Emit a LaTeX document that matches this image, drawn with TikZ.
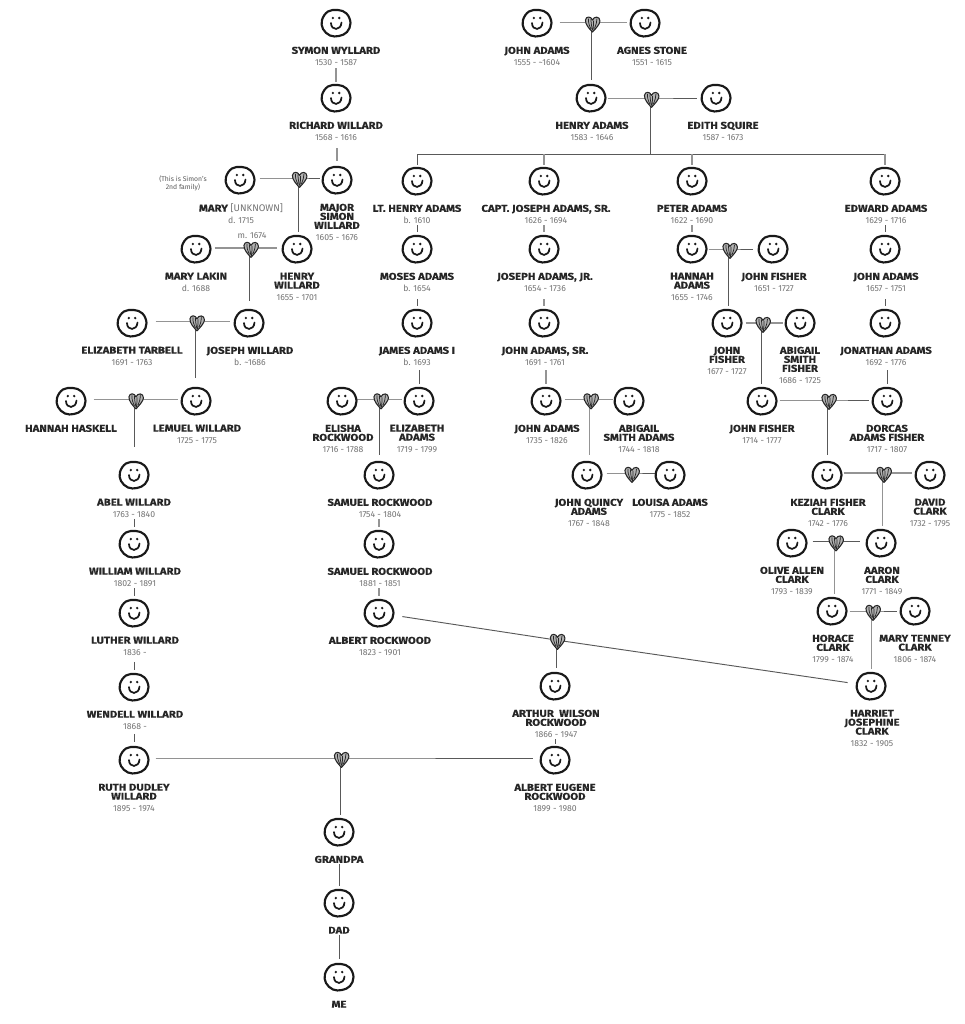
\documentclass[tikz,border=0pt]{standalone}
\usepackage{fontspec}
\setmainfont{Fira Sans}
\newfontfamily\nmfam[FakeStretch=1.15,BoldFeatures={FakeBold=0.35}]{Fira Sans}
\pgfdeclarelayer{conn}
\pgfdeclarelayer{paper}
\pgfsetlayers{paper,conn,main}
\newcommand{\nmf}{\nmfam\fontsize{7.4pt}{6.75pt}\selectfont\bfseries\color{black!85}}
\newcommand{\dtf}{\rmfamily\fontsize{6.5pt}{6.75pt}\selectfont\mdseries\color{black!55}}
\tikzset{
  x=0.75pt,y=-0.75pt,
  facebox/.style={circle,minimum size=20pt,inner sep=0pt},
  heartbox/.style={circle,minimum size=6pt,inner sep=0pt},
  lbl/.style={anchor=north,align=center,inner sep=0pt,font=\nmf},
  note/.style={align=center,inner sep=0pt,font=\dtf},
  noteb/.style={align=center,inner sep=0pt,font=\fontsize{5.1pt}{6.2pt}\selectfont\color{black!65}},
  link/.style={draw=black!65,line width=0.7pt},
  linkl/.style={draw=black!42,line width=0.8pt},
  smile/.pic={
    \draw[line width=1.6pt,line cap=round,black!90] plot[smooth cycle,tension=0.65] coordinates {(14.5,0) (10.5,-9.5) (2,-13) (-8,-11.5) (-14,-3) (-13,6) (-6,12.5) (3,13) (11,9)};
    \fill[black!90] (-3.2,-5) circle (1.3) (3.2,-5) circle (1.3);
    \draw[line width=1.3pt,line cap=round,black!90] (-5,0) .. controls (-5,8) and (5,8) .. (5.5,-0.5);
  },
  heartglyph/.pic={
    \draw[line width=0.8pt,black!85,fill=black!30,line join=round] (0,8) .. controls (-3,5) and (-7.5,0) .. (-7,-4) .. controls (-6.5,-8) and (-1.5,-8) .. (0,-4) .. controls (1.5,-8) and (7.5,-8) .. (7.5,-3) .. controls (7.5,0) and (3,5) .. (0,8) -- cycle;
    \draw[line width=0.55pt,black!85] (-4,-5.5) .. controls (-4.5,-2) and (-3,2) .. (-1.5,5) (-1.5,-5) .. controls (-1.5,-2) and (-1,2) .. (0,6) (1,-3.5) .. controls (1,0) and (1,3) .. (0.5,6.5) (4.5,-5.5) .. controls (4.5,-2) and (3.5,1) .. (2,4.5);
  }
}
% id, face x, face y, label x, name, dates
\newcommand{\person}[6]{%
  \node[facebox] (#1) at (#2,#3) {};
  \pic at (#1) {smile};
  \if\relax\detokenize{#6}\relax
    \node[lbl] (#1-l) at (#4,#3+23.5) {#5};
  \else
    \node[lbl] (#1-l) at (#4,#3+23.5) {#5\\[2.2pt]{\dtf #6}};
  \fi
}
% the stem leaves each heart a little left of its middle
\newcommand{\heart}[3]{%
  \node[heartbox] (#1) at (#2-1.5,#3) {};
  \pic at ([xshift=1.1pt,yshift=-1.0pt]#1) {heartglyph};
}
% [style] a h b gapa gapb : a horizontal line at the height of the heart
\newcommand{\couple}[6][link]{%
  \begin{pgfonlayer}{conn}
  \draw[#1] ([xshift=#5*0.75pt]#2.east |- #3.center) -- (#3.center) -- ([xshift=-#6*0.75pt]#4.west |- #3.center);
  \end{pgfonlayer}
}
% [style] h child endgap(px)
\newcommand{\drop}[4][link]{%
  \begin{pgfonlayer}{conn}
  \draw[#1,shorten >=#4*0.75pt] (#2.center) -- (#2.center |- #3.north);
  \end{pgfonlayer}
}
% [style] label face startgap endgap (px)
\newcommand{\chain}[5][link]{%
  \begin{pgfonlayer}{conn}
  \draw[#1,shorten <=#4*0.75pt,shorten >=#5*0.75pt] (#3.north |- #2.south) -- (#3.north);
  \end{pgfonlayer}
}
\begin{document}
\begin{tikzpicture}
\begin{pgfonlayer}{paper}
\fill[white] (0,0) rectangle (964,1024);
\end{pgfonlayer}
\useasboundingbox (0,0) rectangle (964,1024);

% Willard line
\person{symon}{336}{23}{336}{SYMON WYLLARD}{1530 - 1587}
\person{richard}{336}{98}{336}{RICHARD WILLARD}{1568 - 1616}
\person{major}{337}{180}{337}{MAJOR\\SIMON\\WILLARD}{1605 - 1676}
\person{mary}{240}{180}{241}{MARY {\dtf\fontsize{7.2pt}{6.75pt}\selectfont [UNKNOWN]}}{d. 1715}
\heart{hm}{299.5}{178}
\person{henryw}{297}{249}{297}{HENRY\\WILLARD}{1655 - 1701}
\person{lakin}{196}{249}{196}{MARY LAKIN}{d. 1688}
\heart{hl}{251}{248}
\person{josephw}{249}{323}{250}{JOSEPH WILLARD}{b. \textasciitilde 1686}
\person{tarbell}{132}{323}{132}{ELIZABETH TARBELL}{1691 - 1763}
\heart{ht}{197}{321.5}
\person{lemuel}{196}{401}{197}{LEMUEL WILLARD}{1725 - 1775}
\person{haskell}{71}{401}{71}{HANNAH HASKELL}{}
\heart{hh}{136}{399.5}
\person{abel}{134}{475}{134}{ABEL WILLARD}{1763 - 1840}
\person{william}{134}{544}{135}{WILLIAM WILLARD}{1802 - 1891}
\person{luther}{134}{613}{135}{LUTHER WILLARD}{1836 -}
\person{wendell}{134}{687}{135}{WENDELL WILLARD}{1868 -}
\person{ruth}{134}{760}{134}{RUTH DUDLEY\\WILLARD}{1895 - 1974}
\node[noteb] (sn) at (183,183) {(This is Simon's\\2nd family)};
\node[note] (ml) at (252,236) {m. 1674};

% Adams top
\person{johna}{537}{23}{537}{JOHN ADAMS}{1555 - \textasciitilde 1604}
\person{agnes}{645}{23}{652}{AGNES STONE}{1551 - 1615}
\heart{hj}{592.5}{22.7}
\person{henrya}{591}{98}{592}{HENRY ADAMS}{1583 - 1646}
\person{edith}{716}{98}{723}{EDITH SQUIRE}{1587 - 1673}
\heart{he}{651.5}{98}
\coordinate (busl) at (417,154);
\coordinate (busr) at (885,154);
\coordinate (busm) at (650,154);

% Row of children
\person{lth}{417}{181}{417}{LT. HENRY ADAMS}{b. 1610}
\person{capt}{544}{181}{546}{CAPT. JOSEPH ADAMS, SR.}{1626 - 1694}
\person{peter}{692}{181}{692}{PETER ADAMS}{1622 - 1690}
\person{edward}{885}{181}{886}{EDWARD ADAMS}{1629 - 1716}
\person{moses}{417}{249}{417}{MOSES ADAMS}{b. 1654}
\person{josephjr}{544}{249}{545}{JOSEPH ADAMS, JR.}{1654 - 1736}
\person{hannaha}{692}{249}{692}{HANNAH\\ADAMS}{1655 - 1746}
\person{johnf}{773}{249}{774}{JOHN FISHER}{1651 - 1727}
\heart{hf}{730}{249}
\person{johna2}{885}{249}{886}{JOHN ADAMS}{1657 - 1751}
\person{james}{417}{323}{417}{JAMES ADAMS I}{b. 1693}
\person{johnsr}{544}{323}{545}{JOHN ADAMS, SR.}{1691 - 1761}
\person{johnf2}{727}{323}{727}{JOHN\\FISHER}{1677 - 1727}
\person{abigailf}{800}{323}{800}{ABIGAIL\\SMITH\\FISHER}{1686 - 1725}
\heart{hg}{763}{323}
\person{jonathan}{885}{323}{886}{JONATHAN ADAMS}{1692 - 1776}

% Row 401
\person{elisha}{342}{401}{343}{ELISHA\\ROCKWOOD}{1716 - 1788}
\person{elizabeth}{419}{401}{417}{ELIZABETH\\ADAMS}{1719 - 1799}
\heart{hr}{381}{399.5}
\person{johna3}{546}{401}{547}{JOHN ADAMS}{1735 - 1826}
\person{abigaila}{629}{401}{639}{ABIGAIL\\SMITH ADAMS}{1744 - 1818}
\heart{ha}{591}{399.5}
\person{johnf3}{762}{401}{762}{JOHN FISHER}{1714 - 1777}
\person{dorcas}{887}{401}{887}{DORCAS\\ADAMS FISHER}{1717 - 1807}
\heart{hd}{829}{400}

% Row 475
\person{samuel}{379}{475}{380}{SAMUEL ROCKWOOD}{1754 - 1804}
\person{jq}{587}{475}{589}{JOHN QUINCY\\ADAMS}{1767 - 1848}
\person{louisa}{670}{475}{670}{LOUISA ADAMS}{1775 - 1852}
\heart{hq}{632}{473}
\person{keziah}{827}{475}{828}{KEZIAH FISHER\\CLARK}{1742 - 1776}
\person{david}{930}{475}{930}{DAVID\\CLARK}{1732 - 1795}
\heart{hk}{884}{473}

% Row 544
\person{samuel2}{379}{544}{380}{SAMUEL ROCKWOOD}{1881 - 1851}
\person{olive}{792}{543}{792}{OLIVE ALLEN\\CLARK}{1793 - 1839}
\person{aaron}{881}{543}{882}{AARON\\CLARK}{1771 - 1849}
\heart{ho}{836}{541.5}

% Row 613
\person{albert}{379}{613}{380}{ALBERT ROCKWOOD}{1823 - 1901}
\person{horace}{832}{611}{833}{HORACE\\CLARK}{1799 - 1874}
\person{tenney}{915}{611}{915}{MARY TENNEY\\CLARK}{1806 - 1874}
\heart{hc}{873}{611}

% Bottom
\heart{hx}{557.5}{640}
\person{arthur}{555}{686}{556}{ARTHUR\ \ WILSON\\ROCKWOOD}{1866 - 1947}
\person{harriet}{871}{686}{872}{HARRIET\\JOSEPHINE\\CLARK}{1832 - 1905}
\person{eugene}{555}{760}{555}{ALBERT EUGENE\\ROCKWOOD}{1899 - 1980}
\heart{hz}{341.5}{758}
\person{grandpa}{339}{832}{339}{GRANDPA}{}
\person{dad}{339}{903}{339}{DAD}{}
\person{me}{339}{977}{339}{ME}{}

% Couples
\couple[linkl]{johna}{hj}{agnes}{9}{4}
\couple{henrya}{he}{edith}{3}{5}
\couple{mary}{hm}{major}{6}{3}
\couple[linkl]{lakin}{hl}{henryw}{5}{6}
\couple[linkl]{tarbell}{ht}{josephw}{10}{5}
\couple[linkl]{haskell}{hh}{lemuel}{9}{4}
\couple{hannaha}{hf}{johnf}{3}{6}
\couple[linkl]{johnf2}{hg}{abigailf}{5}{3}
\couple[linkl]{elisha}{hr}{elizabeth}{1}{3}
\couple[linkl]{johna3}{ha}{abigaila}{5}{2}
\couple{johnf3}{hd}{dorcas}{4}{4}
\couple{jq}{hq}{louisa}{6}{1}
\couple[linkl]{keziah}{hk}{david}{3}{4}
\couple{olive}{ho}{aaron}{7}{7}
\couple{horace}{hc}{tenney}{4}{4}
\couple{ruth}{hz}{eugene}{8}{8}
\begin{pgfonlayer}{conn}
\draw[link,shorten <=7.5pt] (albert) -- (hx.center);
\draw[link,shorten >=7.5pt] (hx.center) -- (harriet);
\end{pgfonlayer}

% Heart drops
\drop{hj}{henrya}{4}
\drop{hm}{henryw}{3}
\drop{hl}{josephw}{8}
\drop{ht}{lemuel}{9}
\drop{hh}{abel}{14}
\drop{hf}{johnf2}{3}
\drop{hg}{johnf3}{3}
\drop{hr}{samuel}{6}
\drop[linkl]{ha}{jq}{6}
\drop{hd}{keziah}{6}
\drop[linkl]{hk}{aaron}{3}
\drop[linkl]{ho}{horace}{3}
\drop[linkl]{hc}{harriet}{3}
\drop{hx}{arthur}{4}
\drop{hz}{grandpa}{3}

% Bus
\begin{pgfonlayer}{conn}
\draw[link] (he.center) -- (he.center |- busm);
\draw[link] (busl) -- (busr);
\draw[link,shorten >=1.5pt] (busl) -- (lth.north);
\draw[linkl,shorten >=1.5pt] (capt.north |- busm) -- (capt.north);
\draw[linkl,shorten >=1.5pt] (peter.north |- busm) -- (peter.north);
\draw[linkl,shorten >=1.5pt] (edward.north |- busm) -- (edward.north);
\end{pgfonlayer}

% Label to next face
\chain[linkl]{symon-l}{richard}{2}{2}
\chain[linkl]{richard-l}{major}{7}{5}
\chain{lth-l}{moses}{1}{3}
\chain{moses-l}{james}{7}{3}
\chain{james-l}{elizabeth}{4}{3}
\chain[linkl]{capt-l}{josephjr}{1}{3}
\chain[linkl]{josephjr-l}{johnsr}{7}{3}
\chain[linkl]{johnsr-l}{johna3}{4}{3}
\chain[linkl]{peter-l}{hannaha}{1}{3}
\chain{edward-l}{johna2}{1}{3}
\chain{johna2-l}{jonathan}{7}{3}
\chain{jonathan-l}{dorcas}{4}{3}
\chain{abel-l}{william}{1}{3}
\chain{william-l}{luther}{1}{3}
\chain{luther-l}{wendell}{6}{3}
\chain{wendell-l}{ruth}{4}{4}
\chain[linkl]{samuel-l}{samuel2}{1}{3}
\chain[linkl]{samuel2-l}{albert}{1}{3}
\chain{arthur-l}{eugene}{1}{2}
\chain{grandpa-l}{dad}{1}{3}
\chain{dad-l}{me}{1}{4}
\end{tikzpicture}
\end{document}
